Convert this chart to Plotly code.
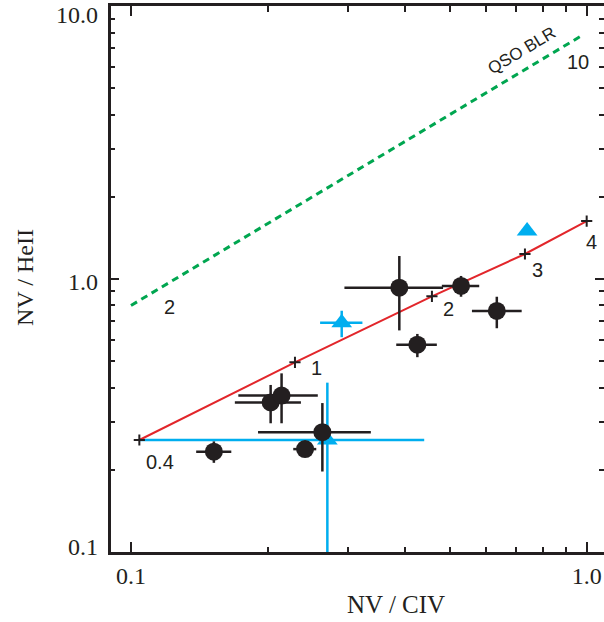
import numpy as np
import plotly.graph_objects as go

# ---------------- data ----------------
# Black filled circles: NV/CIV and NV/HeII with error ranges (low, high)
CIRC_NV_CIV = [0.152, 0.241, 0.2025, 0.214, 0.263, 0.388, 0.425, 0.530, 0.635]
CIRC_NV_CIV_LO = [0.139, 0.227, 0.169, 0.172, 0.190, 0.294, 0.382, 0.481, 0.560]
CIRC_NV_CIV_HI = [0.166, 0.255, 0.236, 0.257, 0.336, 0.484, 0.469, 0.581, 0.720]
CIRC_NV_HEII = [0.233, 0.238, 0.353, 0.374, 0.2745, 0.929, 0.5745, 0.943, 0.764]
CIRC_NV_HEII_LO = [0.212, 0.229, 0.296, 0.296, 0.197, 0.648, 0.517, 0.861, 0.660]
CIRC_NV_HEII_HI = [0.254, 0.248, 0.409, 0.451, 0.351, 1.214, 0.629, 1.026, 0.861]

# Blue triangles with error ranges
TRI_NV_CIV = [0.290, 0.2697]
TRI_NV_CIV_LO = [0.260, 0.104]
TRI_NV_CIV_HI = [0.322, 0.440]
TRI_NV_HEII = [0.692, 0.257]
TRI_NV_HEII_LO = [0.612, 0.05]
TRI_NV_HEII_HI = [0.765, 0.417]
# Blue triangle without error bars
TRI2_NV_CIV = [0.740]
TRI2_NV_HEII = [1.50]

# Model track (red) with parameter labels
MODEL_PARAM = ["0.4", "1", "2", "3", "4"]
MODEL_NV_CIV = [0.1043, 0.229, 0.4575, 0.732, 1.0]
MODEL_NV_HEII = [0.257, 0.495, 0.864, 1.235, 1.63]

# QSO BLR track (green dashed)
QSO_PARAM = ["2", "10"]
QSO_NV_CIV = [0.1, 0.967]
QSO_NV_HEII = [0.8, 7.73]

X_TICK_VALS = [0.1, 1.0]
X_TICK_TEXT = ["0.1", "1.0"]
Y_TICK_VALS = [0.1, 1.0, 10.0]
Y_TICK_TEXT = ["0.1", "1.0", "10.0"]
X_MINOR = [0.2, 0.3, 0.4, 0.5, 0.6, 0.7, 0.8, 0.9]
Y_MINOR = [0.2, 0.3, 0.4, 0.5, 0.6, 0.7, 0.8, 0.9, 2, 3, 4, 5, 6, 7, 8, 9]

# ---------------- styles ----------------
INK = "#231f20"
BLUE = "#00aeef"
RED = "#e2262b"
GREEN = "#00a650"
SERIF = "Liberation Serif"
SANS = "Liberation Sans"

def err(v, lo, hi):
    v = np.array(v, float)
    return dict(type="data", symmetric=False,
                array=list(np.array(hi) - v), arrayminus=list(v - np.array(lo)))

fig = go.Figure()

# QSO BLR line
fig.add_trace(go.Scatter(x=QSO_NV_CIV, y=QSO_NV_HEII, mode="lines",
                         line=dict(color=GREEN, width=3, dash="7px,5px"),
                         showlegend=False, hoverinfo="skip"))

# blue triangles with errors
fig.add_trace(go.Scatter(x=TRI_NV_CIV, y=TRI_NV_HEII, mode="markers",
                         marker=dict(symbol="triangle-up", size=18, color=BLUE),
                         error_x=dict(**err(TRI_NV_CIV, TRI_NV_CIV_LO, TRI_NV_CIV_HI),
                                      color=BLUE, thickness=2.5, width=0),
                         error_y=dict(**err(TRI_NV_HEII, TRI_NV_HEII_LO, TRI_NV_HEII_HI),
                                      color=BLUE, thickness=2.5, width=0),
                         showlegend=False))

# model track
fig.add_trace(go.Scatter(x=MODEL_NV_CIV, y=MODEL_NV_HEII, mode="lines",
                         line=dict(color=RED, width=2),
                         showlegend=False, hoverinfo="skip"))
fig.add_trace(go.Scatter(x=MODEL_NV_CIV, y=MODEL_NV_HEII, mode="markers",
                         marker=dict(symbol="cross-thin", size=8,
                                     line=dict(color=INK, width=2)),
                         showlegend=False, hoverinfo="skip"))

# black circles
fig.add_trace(go.Scatter(x=CIRC_NV_CIV, y=CIRC_NV_HEII, mode="markers",
                         marker=dict(symbol="circle", size=18, color=INK),
                         error_x=dict(**err(CIRC_NV_CIV, CIRC_NV_CIV_LO, CIRC_NV_CIV_HI),
                                      color=INK, thickness=2.5, width=0),
                         error_y=dict(**err(CIRC_NV_HEII, CIRC_NV_HEII_LO, CIRC_NV_HEII_HI),
                                      color=INK, thickness=2.5, width=0),
                         showlegend=False))

# blue triangle without errors
fig.add_trace(go.Scatter(x=TRI2_NV_CIV, y=TRI2_NV_HEII, mode="markers",
                         marker=dict(symbol="triangle-up", size=18, color=BLUE),
                         showlegend=False))

# invisible trace so the mirrored tick axes (top / right) are drawn
fig.add_trace(go.Scatter(x=[MODEL_NV_CIV[0]], y=[MODEL_NV_HEII[0]], xaxis="x2", yaxis="y2",
                         mode="markers", marker=dict(opacity=0),
                         showlegend=False, hoverinfo="skip"))

# labels along tracks
lab_font = dict(family=SANS, size=20, color=INK)
model_shifts = [(21, -22), (22, -6), (17, -13), (13, -16), (5, -21)]
for p, xv, yv, (dx, dy) in zip(MODEL_PARAM, MODEL_NV_CIV, MODEL_NV_HEII, model_shifts):
    fig.add_annotation(x=np.log10(xv), y=np.log10(yv), text=p, showarrow=False,
                       xshift=dx, yshift=dy, font=lab_font)
qso_shifts = [(38, -2), (-2, -25)]
for p, xv, yv, (dx, dy) in zip(QSO_PARAM, QSO_NV_CIV, QSO_NV_HEII, qso_shifts):
    fig.add_annotation(x=np.log10(xv), y=np.log10(yv), text=p, showarrow=False,
                       xshift=dx, yshift=dy, font=lab_font)
fig.add_annotation(x=np.log10(QSO_NV_CIV[1]), y=np.log10(QSO_NV_HEII[1]),
                   text="QSO BLR", showarrow=False, textangle=-31,
                   xshift=-58, yshift=-14, font=dict(family=SANS, size=17, color=INK))

# y tick labels (placed as text so the top one stays inside the page)
tick_font = dict(family=SERIF, size=24, color=INK)
y_label_shifts = [5, -3, -9]
for v, t, dy in zip(Y_TICK_VALS, Y_TICK_TEXT, y_label_shifts):
    fig.add_annotation(xref="paper", x=-0.0223, y=np.log10(v), text=t, showarrow=False,
                       xanchor="right", yanchor="middle", yshift=dy, font=tick_font)

# axis titles
fig.add_annotation(xref="paper", yref="paper", x=0.578, y=-0.097,
                   xanchor="center", yanchor="middle",
                   text="NV / CIV", showarrow=False,
                   font=dict(family=SERIF, size=25, color=INK))
fig.add_annotation(xref="paper", yref="paper", x=-0.1744, y=0.502,
                   xanchor="center", yanchor="middle",
                   text="NV / HeII", showarrow=False, textangle=-90,
                   font=dict(family=SERIF, size=24, color=INK))

axis_common = dict(type="log", showgrid=False, zeroline=False, automargin=False,
                   linecolor=INK, linewidth=3, tickcolor=INK, tickwidth=2,
                   ticks="inside", tickfont=tick_font)

X_RANGE = [-1.0439, 0.0380]
Y_RANGE = [-1.0005, 1.0005]

fig.update_layout(
    width=604, height=622,
    margin=dict(l=111, r=0, t=6, b=70, autoexpand=False),
    paper_bgcolor="white", plot_bgcolor="white",
    xaxis=dict(**axis_common, range=X_RANGE, showline=True, mirror=True,
               tickmode="array", tickvals=X_TICK_VALS, ticktext=X_TICK_TEXT, ticklen=10,
               minor=dict(tickmode="array", tickvals=X_MINOR, ticks="inside", ticklen=5,
                          tickcolor=INK, tickwidth=2, showgrid=False),
               ticklabelstandoff=0, ticklabeloverflow="allow"),
    xaxis2=dict(type="log", range=X_RANGE, overlaying="x", side="top", automargin=False,
                showgrid=False, zeroline=False, showline=False, showticklabels=False,
                ticks="inside", ticklen=10, tickcolor=INK, tickwidth=2,
                tickmode="array", tickvals=X_TICK_VALS,
                minor=dict(tickmode="array", tickvals=X_MINOR, ticks="inside", ticklen=6,
                           tickcolor=INK, tickwidth=2, showgrid=False)),
    yaxis=dict(**axis_common, range=Y_RANGE, showline=True, mirror=False,
               tickmode="array", tickvals=Y_TICK_VALS, showticklabels=False, ticklen=8,
               minor=dict(tickmode="array", tickvals=Y_MINOR, ticks="inside", ticklen=4,
                          tickcolor=INK, tickwidth=2, showgrid=False)),
    yaxis2=dict(type="log", range=Y_RANGE, overlaying="y", side="right", automargin=False,
                showgrid=False, zeroline=False, showline=False, showticklabels=False,
                ticks="inside", ticklen=9, tickcolor=INK, tickwidth=2,
                tickmode="array", tickvals=Y_TICK_VALS,
                minor=dict(tickmode="array", tickvals=Y_MINOR, ticks="inside", ticklen=5,
                           tickcolor=INK, tickwidth=2, showgrid=False)),
)

fig.write_html("out.html")
